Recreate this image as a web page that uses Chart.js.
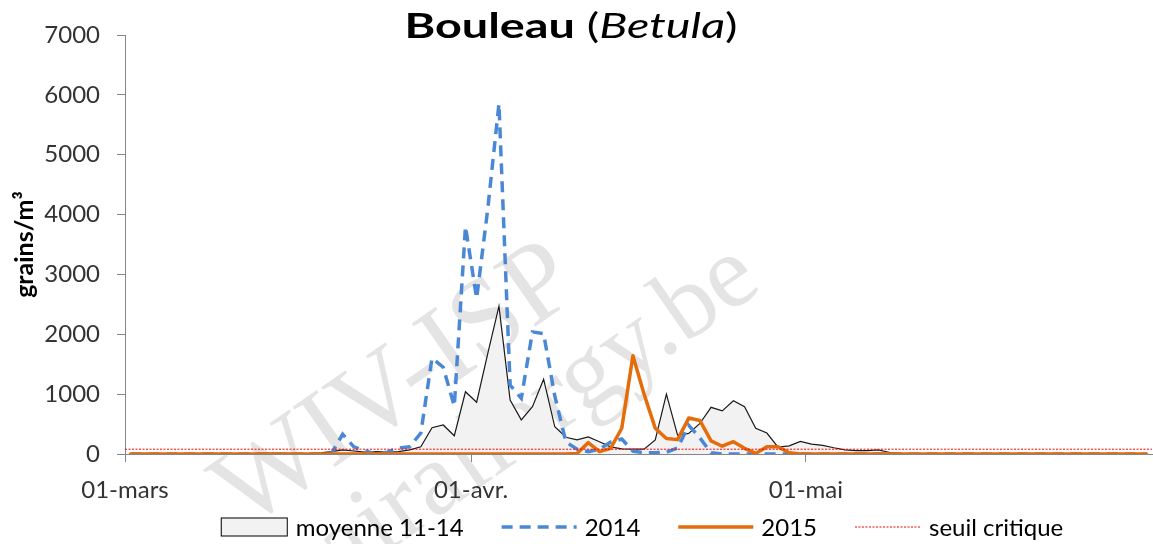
<!DOCTYPE html>
<html><head><meta charset="utf-8">
<script src="https://cdn.jsdelivr.net/npm/chart.js@4.4.1/dist/chart.umd.min.js"></script>
<style>html,body{margin:0;padding:0;background:#fff;overflow:hidden}</style>
</head><body>
<canvas id="c" width="1153" height="544"></canvas>
<script>
// ---- data (day index 0 = 01 March, 92 days to 31 May) ----
const dayCount = 92;
const xTickDays = [0, 31, 61];
const xTickLabels = ['01-mars', '01-avr.', '01-mai'];
const seriesNames = ['moyenne 11-14', '2014', '2015', 'seuil critique'];
const seuilCritique = 80;

const moyenne = [
  0, 0, 0, 5, 0, 0, 5, 10, 5, 0,
  0, 5, 10, 15, 10, 5, 10, 20, 40, 70,
  50, 30, 40, 30, 40, 70, 120, 440, 485, 305,
  1040, 865, 1680, 2470, 900, 570, 790, 1250, 455, 280,
  235, 285, 205, 120, 85, 80, 80, 235, 1000, 315,
  345, 510, 780, 720, 890, 790, 430, 350, 115, 135,
  210, 165, 145, 105, 70, 55, 58, 70, 25, 10,
  5, 0, 0, 5, 0, 0, 0, 0, 0, 0,
  0, 0, 0, 0, 0, 0, 0, 0, 0, 0,
  0, 0
];
const y2014 = [
  0, 0, 0, 0, 0, 0, 0, 0, 0, 0,
  0, 0, 0, 0, 0, 0, 0, 0, 10, 330,
  120, 50, 0, 30, 100, 120, 350, 1600, 1450, 800,
  3800, 2600, 4100, 5850, 1150, 930, 2040, 2010, 970, 200,
  80, 40, 80, 200, 250, 50, 20, 20, 30, 100,
  480, 270, 20, 0, 0, 0, 0, 0, 0, 0,
  0, 0, 0, 0, 0, 0, 0, 0, 0, 0,
  0, 0, 0, 0, 0, 0, 0, 0, 0, 0,
  0, 0, 0, 0, 0, 0, 0, 0, 0, 0,
  0, 0
];
const y2015 = [
  0, 0, 0, 0, 0, 0, 0, 0, 0, 0,
  0, 0, 0, 0, 0, 0, 0, 0, 0, 0,
  0, 0, 0, 0, 0, 0, 0, 0, 0, 0,
  0, 0, 0, 0, 0, 0, 0, 0, 0, 0,
  10, 190, 40, 95, 430, 1640, 1000, 430, 260, 240,
  600, 560, 220, 130, 205, 95, 10, 120, 120, 20,
  0, 0, 0, 0, 0, 0, 0, 0, 0, 0,
  0, 0, 0, 0, 0, 0, 0, 0, 0, 0,
  0, 0, 0, 0, 0, 0, 0, 0, 0, 0,
  0, 0
];

const toPts = arr => arr.map((v, i) => ({x: i + 0.5, y: v}));

const C = {
  fill: '#f2f2f2', avgLine: '#1a1a1a', blue: '#4a88d6', orange: '#e46c0a',
  red: '#ff0000', axis: '#868686', text: '#333333'
};
const FONT = 'Lato, "Liberation Sans", sans-serif';

const bgPlugin = {
  id: 'bg',
  beforeDraw(chart) {
    const ctx = chart.ctx;
    ctx.save();
    ctx.fillStyle = '#fff';
    ctx.fillRect(0, 0, chart.width, chart.height);
    // watermark
    ctx.translate(245, 530);
    ctx.rotate(-35 * Math.PI / 180);
    ctx.fillStyle = 'rgba(190,190,190,0.42)';
    ctx.font = '112px "Liberation Serif", serif';
    ctx.textBaseline = 'alphabetic';
    ctx.fillText('WIV-ISP', 0, 0);
    ctx.font = '104px "Liberation Serif", serif';
    ctx.fillText('airallergy.be', 50, 100);
    ctx.restore();
  }
};

const titlePlugin = {
  id: 'mixedTitle',
  afterDraw(chart) {
    const ctx = chart.ctx;
    const size = 34;
    const parts = [
      {t: 'Bouleau', f: 'bold ' + size + 'px ' + FONT},
      {t: ' (', f: size + 'px ' + FONT},
      {t: 'Betula', f: 'italic ' + size + 'px ' + FONT},
      {t: ')', f: size + 'px ' + FONT}
    ];
    ctx.save();
    let w = 0;
    parts.forEach(p => { ctx.font = p.f; p.w = ctx.measureText(p.t).width; w += p.w; });
    const targetW = 333;
    const sx = targetW / w;
    ctx.translate(571 - targetW / 2, 38);
    ctx.scale(sx, 1);
    let x = 0;
    ctx.fillStyle = '#000';
    ctx.textBaseline = 'alphabetic';
    parts.forEach(p => { ctx.font = p.f; ctx.fillText(p.t, x, 0); x += p.w; });
    ctx.restore();
  }
};

const legendPlugin = {
  id: 'customLegend',
  afterDraw(chart) {
    const ctx = chart.ctx;
    const cy = 527;
    const items = [
      {label: seriesNames[0], kind: 'box', w: 67},
      {label: seriesNames[1], kind: 'line', w: 75, color: C.blue, lw: 3.5, dash: [11, 7]},
      {label: seriesNames[2], kind: 'line', w: 75, color: C.orange, lw: 3.5, dash: []},
      {label: seriesNames[3], kind: 'line', w: 66, color: C.red, lw: 1, dash: [2, 1.5]}
    ];
    ctx.save();
    ctx.font = '24px ' + FONT;
    const gapText = 8, gapItem = 38;
    let total = 0;
    items.forEach((it, i) => { it.tw = ctx.measureText(it.label).width; total += it.w + gapText + it.tw + (i < items.length - 1 ? gapItem : 0); });
    let x = 642 - total / 2;
    items.forEach(it => {
      if (it.kind === 'box') {
        ctx.fillStyle = C.fill;
        ctx.fillRect(x, cy - 9.5, it.w, 19);
        ctx.strokeStyle = '#000';
        ctx.lineWidth = 1;
        ctx.strokeRect(x + 0.5, cy - 9, it.w - 1, 18);
      } else {
        ctx.beginPath();
        ctx.strokeStyle = it.color;
        ctx.lineWidth = it.lw;
        ctx.setLineDash(it.dash);
        ctx.moveTo(x, cy);
        ctx.lineTo(x + it.w, cy);
        ctx.stroke();
        ctx.setLineDash([]);
      }
      x += it.w + gapText;
      ctx.fillStyle = '#000';
      ctx.textBaseline = 'middle';
      ctx.fillText(it.label, x, cy + 1);
      x += it.tw + gapItem;
    });
    ctx.restore();
  }
};

new Chart(document.getElementById('c'), {
  type: 'line',
  data: {
    datasets: [
      {
        label: seriesNames[3],
        data: [{x: 0, y: seuilCritique}, {x: dayCount, y: seuilCritique}],
        borderColor: C.red, borderWidth: 1, borderDash: [2, 1.5], pointRadius: 0, fill: false, order: 0
      },
      {
        label: seriesNames[2], data: toPts(y2015),
        borderColor: C.orange, borderWidth: 3.5, pointRadius: 0, fill: false, order: 1,
        borderJoinStyle: 'round', borderCapStyle: 'round'
      },
      {
        label: seriesNames[1], data: toPts(y2014),
        borderColor: C.blue, borderWidth: 3.5, borderDash: [11, 7], pointRadius: 0, fill: false, order: 2
      },
      {
        label: seriesNames[0], data: toPts(moyenne),
        borderColor: C.avgLine, borderWidth: 1.2, backgroundColor: C.fill, pointRadius: 0,
        fill: 'origin', order: 3
      }
    ]
  },
  options: {
    responsive: false,
    animation: false,
    devicePixelRatio: 1,
    layout: {padding: {top: 35, right: 1, bottom: 30, left: 0}},
    plugins: {legend: {display: false}, title: {display: false}, tooltip: {enabled: false}},
    elements: {line: {tension: 0}},
    scales: {
      x: {
        type: 'linear', min: 0, max: dayCount,
        afterBuildTicks: s => { s.ticks = xTickDays.map(v => ({value: v})); },
        afterFit: s => { s.height = 60; },
        ticks: {
          autoSkip: false, maxRotation: 0, padding: 14,
          color: C.text, font: {family: FONT, size: 24},
          callback: v => xTickLabels[xTickDays.indexOf(v)]
        },
        grid: {drawOnChartArea: false, drawTicks: true, tickLength: 8, color: C.axis},
        border: {display: true, color: C.axis, width: 1}
      },
      y: {
        min: 0, max: 7000,
        afterFit: s => { s.width = 125; },
        ticks: {stepSize: 1000, padding: 17, color: C.text, font: {family: FONT, size: 24},
          callback: v => String(v)},
        grid: {drawOnChartArea: false, drawTicks: true, tickLength: 8, color: C.axis},
        border: {display: true, color: C.axis, width: 1},
        title: {
          display: true, text: 'grains/m³', color: '#000',
          font: {family: FONT, size: 25, weight: 'bold'}, padding: {top: 10, bottom: 0}
        }
      }
    }
  },
  plugins: [bgPlugin, titlePlugin, legendPlugin]
});
</script>
</body></html>
